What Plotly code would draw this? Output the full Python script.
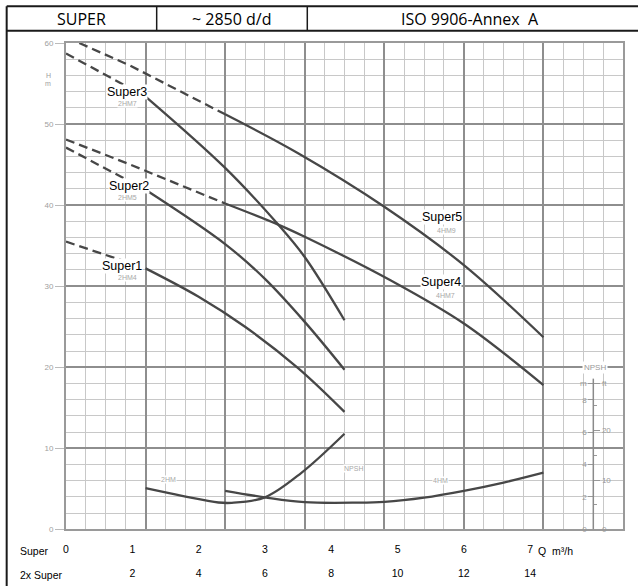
import plotly.graph_objects as go

# ---------------- data (Q in m3/h, H in m, NPSH in m) ----------------
s1_dash_q = [0.0, 1.2]
s1_dash_h = [35.5, 32.2]
s1_q = [1.2, 2.0, 2.7, 3.5, 4.2]
s1_h = [32.2, 28.7, 25.0, 19.9, 14.5]

s2_dash_q = [0.0, 1.2]
s2_dash_h = [47.1, 41.9]
s2_q = [1.2, 2.4, 3.0, 3.6, 4.2]
s2_h = [41.9, 35.2, 30.9, 25.6, 19.7]

s3_dash_q = [0.0, 1.2]
s3_dash_h = [58.7, 53.4]
s3_q = [1.2, 2.4, 3.2, 3.6, 4.2]
s3_h = [53.4, 44.6, 37.6, 33.6, 25.8]

s4_dash_q = [0.0, 0.97, 2.4]
s4_dash_h = [48.1, 45.0, 40.2]
s4_q = [2.4, 3.2, 3.6, 4.9, 6.0, 7.2]
s4_h = [40.2, 37.6, 36.1, 30.7, 25.4, 17.8]

s5_dash_q = [0.2, 0.97, 2.4]
s5_dash_h = [60.0, 57.2, 51.2]
s5_q = [2.4, 3.5, 4.8, 6.0, 7.2]
s5_h = [51.2, 46.4, 39.8, 32.6, 23.7]

npsh_2hm_q = [1.2, 1.75, 2.3, 2.5, 3.0, 3.55, 4.2]
npsh_2hm = [2.54, 2.07, 1.66, 1.64, 1.98, 3.49, 5.9]

npsh_4hm_q = [2.4, 3.0, 3.6, 4.4, 4.8, 5.4, 6.0, 6.6, 7.2]
npsh_4hm = [2.38, 1.98, 1.68, 1.65, 1.70, 1.96, 2.38, 2.89, 3.5]

q_tick_vals = [0, 1, 2, 3, 4, 5, 6, 7]
q_tick_single = ["0", "1", "2", "3", "4", "5", "6", "7"]
q_twin_vals = [1, 2, 3, 4, 5, 6, 7]
q_tick_twin = ["2", "4", "6", "8", "10", "12", "14"]
h_tick_vals = [0, 10, 20, 30, 40, 50, 60]
npsh_m_vals = [0, 2, 4, 6, 8, 9]
npsh_m_text = ["0", "2", "4", "6", "8", "m"]
npsh_ft_vals = [0, 10, 20, 29.53]
npsh_ft_text = ["0", "10", "20", "ft"]

M_TO_FT = 1 / 0.3048

CURVE = "#474747"
DASH = "9px,5px"

fig = go.Figure()


def add_curve(q, h, dashed=False, yaxis="y"):
    fig.add_trace(go.Scatter(
        x=q, y=h, mode="lines", yaxis=yaxis,
        line=dict(color=CURVE, width=2.3, dash=DASH if dashed else "solid",
                  shape="linear" if dashed else "spline", smoothing=1.0),
        hoverinfo="skip", showlegend=False, cliponaxis=True))


for dq, dh, sq, sh in [(s1_dash_q, s1_dash_h, s1_q, s1_h),
                       (s2_dash_q, s2_dash_h, s2_q, s2_h),
                       (s3_dash_q, s3_dash_h, s3_q, s3_h),
                       (s4_dash_q, s4_dash_h, s4_q, s4_h),
                       (s5_dash_q, s5_dash_h, s5_q, s5_h)]:
    add_curve(dq, dh, dashed=True)
    add_curve(sq, sh)

add_curve(npsh_2hm_q, npsh_2hm, yaxis="y2")
add_curve(npsh_4hm_q, npsh_4hm, yaxis="y2")

# invisible helpers so the extra label axes are drawn
fig.add_trace(go.Scatter(x=q_tick_vals, y=[0] * len(q_tick_vals), xaxis="x2",
                         mode="markers", marker=dict(opacity=0),
                         hoverinfo="skip", showlegend=False))
fig.add_trace(go.Scatter(x=q_twin_vals, y=[0] * len(q_twin_vals), xaxis="x3",
                         mode="markers", marker=dict(opacity=0),
                         hoverinfo="skip", showlegend=False))
fig.add_trace(go.Scatter(x=[0], y=[0], yaxis="y3", mode="markers",
                         marker=dict(opacity=0), hoverinfo="skip",
                         showlegend=False))

GRID_MAJ = "#8e8e8e"
GRID_MIN = "#c8c8c8"
Y_DOMAIN = [0.0874, 1.0]
AXPOS = 0.9467

fig.update_layout(
    width=638, height=586,
    margin=dict(l=66, r=15, t=43, b=5),
    paper_bgcolor="white", plot_bgcolor="white",
    showlegend=False,
    xaxis=dict(range=[0, 8.4], tick0=0, dtick=1.2, showgrid=True,
               gridcolor=GRID_MAJ, gridwidth=1.5,
               minor=dict(dtick=0.3, showgrid=True, gridcolor=GRID_MIN, gridwidth=1),
               showticklabels=False, ticks="", zeroline=False,
               showline=True, linecolor="#9a9a9a", linewidth=2, mirror=True,
               anchor="y"),
    yaxis=dict(range=[0, 60], domain=Y_DOMAIN, tickvals=h_tick_vals,
               showgrid=True, gridcolor=GRID_MAJ, gridwidth=1.5,
               minor=dict(dtick=2, showgrid=True, gridcolor=GRID_MIN, gridwidth=1),
               ticks="outside", ticklen=9, tickcolor="#bbbbbb",
               tickfont=dict(family="Liberation Sans", size=8, color="#a0a0a0"),
               zeroline=False, showline=True, linecolor="#9a9a9a", linewidth=2,
               mirror=True),
    yaxis2=dict(range=[0, 30], overlaying="y", anchor="free", position=AXPOS,
                side="left", tickvals=npsh_m_vals, ticktext=npsh_m_text,
                ticks="outside", ticklen=5, tickcolor="#999999",
                tickfont=dict(family="Liberation Sans", size=8, color="#999999"),
                showgrid=False, zeroline=False, showline=False),
    yaxis3=dict(range=[0, 30 * M_TO_FT], overlaying="y", anchor="free",
                position=AXPOS, side="right", tickvals=npsh_ft_vals,
                ticktext=npsh_ft_text, ticks="outside", ticklen=6,
                tickcolor="#999999",
                minor=dict(tickvals=[5, 15, 25], ticks="outside", ticklen=3,
                           tickcolor="#999999"),
                tickfont=dict(family="Liberation Sans", size=8, color="#999999"),
                showgrid=False, zeroline=False, showline=False),
    xaxis2=dict(range=[0, 8.4], overlaying="x", anchor="free", position=0.0648,
                tickvals=q_tick_vals, ticktext=q_tick_single, ticks="",
                showgrid=False, zeroline=False, showline=False,
                tickfont=dict(family="Liberation Sans", size=10.5, color="black")),
    xaxis3=dict(range=[0, 8.4], overlaying="x", anchor="free", position=0.0203,
                tickvals=q_twin_vals, ticktext=q_tick_twin, ticks="",
                showgrid=False, zeroline=False, showline=False,
                tickfont=dict(family="Liberation Sans", size=10.5, color="black")),
)

# vertical line of the NPSH scale
fig.add_shape(type="line", xref="paper", yref="y2", x0=AXPOS, x1=AXPOS,
              y0=0, y1=9.3, line=dict(color="#8a8a8a", width=1.5))

# frame and header table
FRAME = "#1a1a1a"
for x0, y0, x1, y1, w in [(-0.1065, -0.03, -0.1065, 1.0688, 2),
                          (-0.1065, 1.0688, 1.05, 1.0688, 2),
                          (-0.1065, 1.0229, 1.05, 1.0229, 2),
                          (0.1628, 1.0229, 0.1628, 1.0688, 1.5),
                          (0.4332, 1.0229, 0.4332, 1.0688, 1.5)]:
    fig.add_shape(type="line", xref="paper", yref="paper", x0=x0, y0=y0,
                  x1=x1, y1=y1, line=dict(color=FRAME, width=w))

HEAD = dict(family="Open Sans", size=16, color="black")
for txt, xp in [("SUPER", 0.0282), ("~ 2850 d/d", 0.298),
                ("ISO 9906-Annex\u00a0 A", 0.7253)]:
    fig.add_annotation(text=txt, xref="paper", yref="paper", x=xp, y=1.0459,
                       showarrow=False, font=HEAD, xanchor="center", yanchor="middle")

# curve labels
LBL = dict(family="Liberation Sans", size=12.5, color="black")
SUB = dict(family="Liberation Sans", size=7, color="#a8a8a8")
for txt, x, y, f in [("Super3", 0.918, 53.95, LBL), ("Super2", 0.948, 42.42, LBL),
                     ("Super1", 0.85, 32.54, LBL), ("Super5", 5.664, 38.51, LBL),
                     ("Super4", 5.651, 30.48, LBL),
                     ("2HM7", 0.921, 52.55, SUB), ("2HM5", 0.921, 40.98, SUB),
                     ("2HM4", 0.921, 31.1, SUB), ("4HM9", 5.739, 36.87, SUB),
                     ("4HM7", 5.727, 28.84, SUB),
                     ("2HM", 1.545, 6.11, SUB), ("NPSH", 4.338, 7.47, SUB),
                     ("4HM", 5.652, 5.99, SUB)]:
    fig.add_annotation(text=txt, x=x, y=y, xref="x", yref="y", showarrow=False,
                       font=f, bgcolor="white", borderpad=0,
                       xanchor="center", yanchor="middle")

# NPSH title on right scale
fig.add_annotation(text="NPSH", xref="paper", yref="y", x=AXPOS + 0.003, y=20,
                   xanchor="center", yanchor="middle",
                   showarrow=False, bgcolor="white", borderpad=1,
                   font=dict(family="Liberation Sans", size=8, color="#999999"))

# H / m title on left axis
for txt, yv in [("H", 56.0), ("m", 55.0)]:
    fig.add_annotation(text=txt, xref="paper", yref="y", x=-0.0323, y=yv,
                       xanchor="center", yanchor="middle", showarrow=False,
                       font=dict(family="Liberation Sans", size=7, color="#a0a0a0"))

# bottom rows
ROW = dict(family="Liberation Sans", size=10.5, color="black")
fig.add_annotation(text="Super", xref="paper", yref="paper", x=-0.0862, y=0.047,
                   xanchor="left", yanchor="middle", showarrow=False, font=ROW)
fig.add_annotation(text="2x Super", xref="paper", yref="paper", x=-0.0862, y=0.002,
                   xanchor="left", yanchor="middle", showarrow=False, font=ROW)
fig.add_annotation(text="Q\u00a0 m\u00b3/h", xref="paper", yref="paper", x=0.8438,
                   y=0.047, xanchor="left", yanchor="middle", showarrow=False,
                   font=ROW)

fig.write_html("out.html",
               config={"displayModeBar": False},
               post_script="document.body.style.margin='0px';"
                           "document.body.style.padding='0px';")
